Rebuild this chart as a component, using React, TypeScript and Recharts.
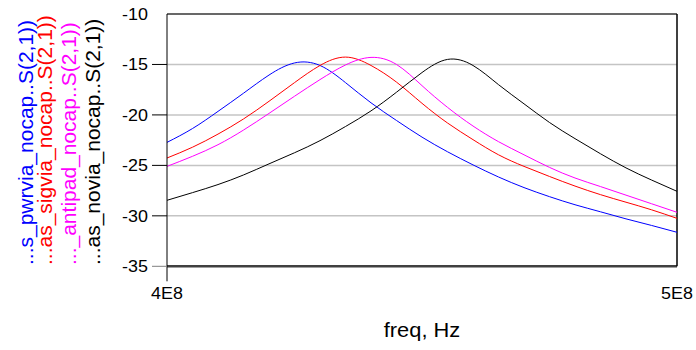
import React from 'react';
import { LineChart, Line, XAxis, YAxis, CartesianGrid, ReferenceLine, Legend, Label } from 'recharts';

const freqHz = [4.0e8, 4.05e8, 4.1e8, 4.15e8, 4.2e8, 4.25e8, 4.3e8, 4.35e8, 4.4e8, 4.45e8, 4.5e8, 4.55e8, 4.6e8, 4.65e8, 4.7e8, 4.75e8, 4.8e8, 4.85e8, 4.9e8, 4.95e8, 5.0e8];
const pwrvia = [-22.72, -21.35, -19.65, -17.85, -16.05, -14.85, -15.1, -16.8, -18.8, -20.55, -22.2, -23.65, -24.95, -26.15, -27.2, -28.1, -28.9, -29.6, -30.3, -30.95, -31.63];
const sigvia = [-24.27, -23.2, -21.9, -20.4, -18.65, -16.8, -15.1, -14.27, -15.1, -16.75, -18.85, -20.8, -22.45, -23.95, -25.1, -26.1, -27.05, -27.9, -28.65, -29.4, -30.25];
const antipad = [-25.1, -24.1, -22.95, -21.5, -19.85, -18.15, -16.5, -15.05, -14.3, -15.0, -17.1, -19.25, -21.1, -22.65, -23.95, -25.2, -26.25, -27.1, -27.95, -28.8, -29.65];
const novia = [-28.46, -27.7, -26.9, -25.95, -24.85, -23.75, -22.55, -21.15, -19.6, -17.75, -15.8, -14.5, -15.1, -17.0, -18.9, -20.75, -22.35, -23.85, -25.25, -26.45, -27.57];

const seriesNames = [
  '...s_pwrvia_nocap..S(2,1))',
  '...as_sigvia_nocap..S(2,1))',
  '..._antipad_nocap..S(2,1))',
  '...as_novia_nocap..S(2,1))',
];
const seriesKeys = ['pwrvia', 'sigvia', 'antipad', 'novia'];
const seriesColors = ['#0000ff', '#ff0000', '#ff00ff', '#000000'];
const yTicks = [-35, -30, -25, -20, -15, -10];
const xTicks = [4e8, 5e8];
const xLabel = 'freq, Hz';

const data = freqHz.map((f, i) => ({
  f,
  pwrvia: pwrvia[i],
  sigvia: sigvia[i],
  antipad: antipad[i],
  novia: novia[i],
}));

const FONT = '"Liberation Sans", Arial, sans-serif';
const legendX = [33, 52, 76, 100];

const YTick = (props: any) => {
  const { x, y, payload } = props;
  const v = payload.value;
  return (
    <g>
      {v !== -10 && (
        <line x1={x + 4} x2={x + 19} y1={y} y2={y} stroke={v === -35 ? '#808080' : '#000'} strokeWidth={1} />
      )}
      <text
        transform={`translate(${x},${y}) scale(1.12,1)`}
        textAnchor="end"
        dy="0.36em"
        fontFamily={FONT}
        fontSize={16}
        fill="#000"
      >
        {v}
      </text>
    </g>
  );
};

const XTick = (props: any) => {
  const { x, y, payload } = props;
  const v = payload.value;
  return (
    <g>
      {v === 4e8 && <line x1={x} x2={x} y1={y - 15} y2={y} stroke="#000" strokeWidth={1} />}
      <text
        transform={`translate(${x},${y + 18}) scale(1.12,1)`}
        textAnchor="middle"
        fontFamily={FONT}
        fontSize={16}
        fill="#000"
      >
        {`${Math.round(v / 1e8)}E8`}
      </text>
    </g>
  );
};

const XLabelContent = (props: any) => {
  const vb = props.viewBox || {};
  const cx = vb.x + vb.width / 2;
  return (
    <text
      transform={`translate(${cx},${vb.y + 70.5}) scale(1.12,1)`}
      textAnchor="middle"
      fontFamily={FONT}
      fontSize={19.5}
      fill="#000"
    >
      {xLabel}
    </text>
  );
};

const LegendContent = () => {
  return (
    <svg width={120} height={350} style={{ display: 'block' }}>
      {seriesNames.map((name, i) => (
        <text
          key={name}
          transform={`translate(${legendX[i]},265) rotate(-90)`}
          fontFamily={FONT}
          fontSize={21}
          fill={seriesColors[i]}
        >
          {name}
        </text>
      ))}
    </svg>
  );
};

export default function App() {
  return (
    <div style={{ position: 'absolute', left: 0, top: 0 }}>
      <LineChart
        width={696}
        height={350}
        data={data}
        margin={{ top: 14, right: 19, bottom: 23.7, left: 107 }}
      >
        <CartesianGrid horizontal vertical={false} stroke="#c4c4c4" strokeWidth={1.5} />
        <XAxis
          dataKey="f"
          type="number"
          domain={[4e8, 5e8]}
          ticks={xTicks}
          height={60}
          axisLine={false}
          tickLine={false}
          tickSize={15}
          tickMargin={0}
          tick={<XTick />}
          interval={0}
          label={<Label content={<XLabelContent />} />}
        />
        <YAxis
          type="number"
          domain={[-35, -10]}
          ticks={yTicks}
          width={60}
          axisLine={{ stroke: '#000', strokeWidth: 1 }}
          tickLine={false}
          tickSize={15}
          tickMargin={4}
          tick={<YTick />}
          interval={0}
        />
        <ReferenceLine y={-10} stroke="#686868" strokeWidth={2} />
        <ReferenceLine y={-35} stroke="#404040" strokeWidth={2.5} />
        <ReferenceLine x={5e8} stroke="#000" strokeWidth={1.5} />
        <Legend
          layout="vertical"
          align="center"
          verticalAlign="middle"
          content={<LegendContent />}
          wrapperStyle={{ position: 'absolute', left: 0, top: 0, width: 120, height: 350 }}
        />
        {seriesKeys.map((k, i) => (
          <Line
            key={k}
            dataKey={k}
            name={seriesNames[i]}
            type="natural"
            stroke={seriesColors[i]}
            strokeWidth={1}
            dot={false}
            activeDot={false}
            isAnimationActive={false}
          />
        ))}
      </LineChart>
    </div>
  );
}
